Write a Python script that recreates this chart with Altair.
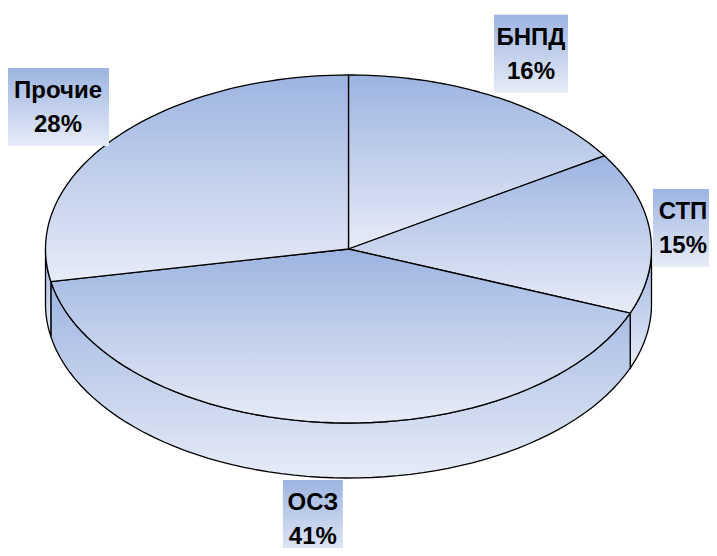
import altair as alt
import pandas as pd

names = ["БНПД", "СТП", "ОСЗ", "Прочие"]
shares = [16, 15, 41, 28]
order = [0, 1, 2, 3]

df = pd.DataFrame({"name": names, "share": shares, "order": order})

W, H = 701, 540
CX, CY = 340.5, 241.0
RX, RY = 303.0, 174.0
DEPTH = 55.0
N = 60

grad = alt.LinearGradient(
    gradient="linear",
    stops=[alt.GradientStop(color="#9DB4E1", offset=0),
           alt.GradientStop(color="#E7ECF7", offset=1)],
    x1=0, x2=0, y1=0, y2=1,
)

xs = alt.Scale(domain=[0, W], nice=False, zero=False)
ys = alt.Scale(domain=[0, H], nice=False, zero=False, reverse=True)

base = (
    alt.Chart(df)
    .transform_joinaggregate(total="sum(share)")
    .transform_window(cum="sum(share)", sort=[alt.SortField("order")], frame=[None, 0])
    .transform_calculate(
        a0="(datum.cum - datum.share) / datum.total * 2 * PI",
        a1="datum.cum / datum.total * 2 * PI",
    )
)

# side wall (front half only)
wall = (
    base.transform_calculate(
        b0="max(datum.a0, PI / 2)",
        b1="min(datum.a1, 3 * PI / 2)",
    )
    .transform_filter("datum.b0 < datum.b1")
    .transform_calculate(idx=f"sequence(0, {2 * N + 2})")
    .transform_flatten(["idx"])
    .transform_calculate(
        j=f"datum.idx <= {N} ? datum.idx : {2 * N + 1} - datum.idx",
    )
    .transform_calculate(
        th=f"datum.b0 + (datum.b1 - datum.b0) * datum.j / {N}",
    )
    .transform_calculate(
        x=f"{CX} + {RX} * sin(datum.th)",
        y=f"{CY} - {RY} * cos(datum.th) + (datum.idx > {N} ? {DEPTH} : 0)",
    )
    .mark_line(interpolate="linear-closed", fill=grad, stroke="black", strokeWidth=1.3)
    .encode(
        x=alt.X("x:Q", scale=xs, axis=None),
        y=alt.Y("y:Q", scale=ys, axis=None),
        order=alt.Order("idx:Q"),
        detail="name:N",
    )
)

# top face
top = (
    base.transform_calculate(idx=f"sequence(-1, {N + 1})")
    .transform_flatten(["idx"])
    .transform_calculate(
        th=f"datum.a0 + (datum.a1 - datum.a0) * max(datum.idx, 0) / {N}",
    )
    .transform_calculate(
        x=f"datum.idx < 0 ? {CX} : {CX} + {RX} * sin(datum.th)",
        y=f"datum.idx < 0 ? {CY} : {CY} - {RY} * cos(datum.th)",
    )
    .mark_line(interpolate="linear-closed", fill=grad, stroke="black", strokeWidth=1.3)
    .encode(
        x=alt.X("x:Q", scale=xs, axis=None),
        y=alt.Y("y:Q", scale=ys, axis=None),
        order=alt.Order("idx:Q"),
        detail="name:N",
    )
)

labels = base.transform_calculate(
    mid="(datum.a0 + datum.a1) / 2",
).transform_calculate(
    lx=f"clamp({CX} + {RX} * 1.25 * sin(datum.mid), 50, 675)",
    ly=f"clamp({CY} - {RY} * 1.28 * cos(datum.mid) + (cos(datum.mid) < 0 ? {DEPTH} : 0), 45, 511)",
    hw="length(datum.name) * 7 + 9",
    pct="datum.share + '%'",
).transform_calculate(
    bx0="datum.lx - datum.hw",
    bx1="datum.lx + datum.hw",
    by0="datum.ly - 39",
    by1="datum.ly + 39",
)

boxes = labels.mark_rect(fill=grad).encode(
    x=alt.X("bx0:Q", scale=xs, axis=None),
    x2="bx1:Q",
    y=alt.Y("by0:Q", scale=ys, axis=None),
    y2="by1:Q",
)

txt_style = dict(font="Liberation Sans", fontSize=24, fontWeight="bold",
                 color="black", align="center", baseline="middle")

name_txt = labels.mark_text(dy=-16, **txt_style).encode(
    x=alt.X("lx:Q", scale=xs, axis=None),
    y=alt.Y("ly:Q", scale=ys, axis=None),
    text="name:N",
)
pct_txt = labels.mark_text(dy=18, **txt_style).encode(
    x=alt.X("lx:Q", scale=xs, axis=None),
    y=alt.Y("ly:Q", scale=ys, axis=None),
    text="pct:N",
)

chart = (
    alt.layer(wall, top, boxes, name_txt, pct_txt)
    .properties(width=W, height=H, padding=0,
                autosize=alt.AutoSizeParams(type="none"), background="white")
    .configure_view(stroke=None)
)

chart.save("out.html", embed_options={"renderer": "svg", "actions": False})
